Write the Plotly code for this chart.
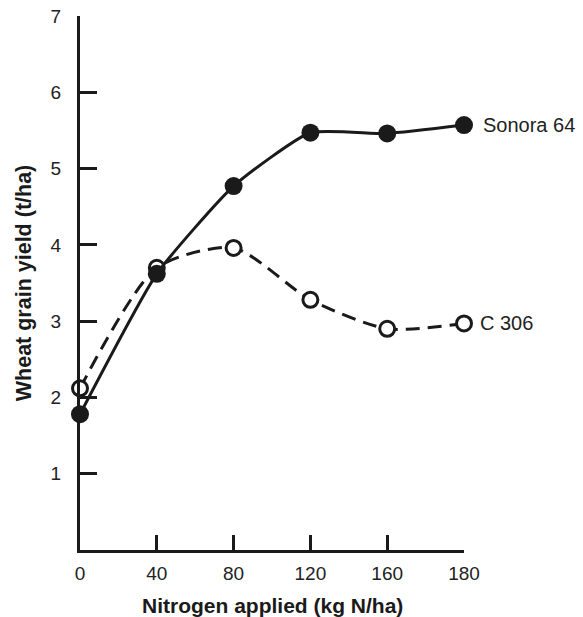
import plotly.graph_objects as go

nitrogen = ["0", "40", "80", "120", "160", "180"]
sonora64 = [1.78, 3.62, 4.77, 5.47, 5.46, 5.57]
c306 = [2.12, 3.70, 3.96, 3.28, 2.90, 2.97]
y_ticks = [1, 2, 3, 4, 5, 6, 7]

FONT = "Liberation Sans, Arial, Helvetica, sans-serif"
INK = "#1a1a1a"

fig = go.Figure()
fig.add_trace(go.Scatter(
    x=nitrogen, y=c306, mode="lines+markers",
    line=dict(color=INK, width=3, dash="14px,8px", shape="spline", smoothing=0.7),
    marker=dict(size=15, color="white", line=dict(color=INK, width=3)),
    cliponaxis=False, showlegend=False,
))
fig.add_trace(go.Scatter(
    x=nitrogen, y=sonora64, mode="lines+markers",
    line=dict(color=INK, width=3, shape="spline", smoothing=0.5),
    marker=dict(size=18, color=INK),
    cliponaxis=False, showlegend=False,
))

last = len(nitrogen) - 1
fig.add_annotation(x=last, y=sonora64[-1], text="Sonora 64", showarrow=False,
                   xanchor="left", yanchor="middle", xshift=17,
                   font=dict(family=FONT, size=20, color="#222"))
fig.add_annotation(x=last, y=c306[-1], text="C 306", showarrow=False,
                   xanchor="left", yanchor="middle", xshift=14,
                   font=dict(family=FONT, size=20, color="#222"))
fig.add_annotation(xref="paper", yref="paper", x=0.5, y=0, yshift=-55,
                   text="<b>Nitrogen applied (kg N/ha)</b>", showarrow=False,
                   xanchor="center", yanchor="middle",
                   font=dict(family=FONT, size=21, color=INK))

fig.update_xaxes(
    type="category", categoryorder="array", categoryarray=nitrogen,
    range=[0, 5], showgrid=False, zeroline=False, automargin=False,
    showline=True, linecolor=INK, linewidth=3,
    ticks="inside", ticklen=15, tickwidth=3, tickcolor=INK,
    tickfont=dict(family=FONT, size=19, color="#222"),
    ticklabelstandoff=4,
)
fig.update_yaxes(
    range=[0, 7], tickvals=y_ticks, showgrid=False, zeroline=False, automargin=False,
    showline=True, linecolor=INK, linewidth=3,
    ticks="inside", ticklen=17, tickwidth=3, tickcolor=INK,
    tickfont=dict(family=FONT, size=19, color="#222"),
    ticklabelstandoff=12,
    title=dict(text="<b>Wheat grain yield (t/ha)</b>", font=dict(family=FONT, size=21.5, color=INK), standoff=14),
)

fig.update_layout(
    width=583, height=617,
    margin=dict(l=80, r=119, t=16, b=67),
    plot_bgcolor="white", paper_bgcolor="white",
)

fig.write_html("out.html")
